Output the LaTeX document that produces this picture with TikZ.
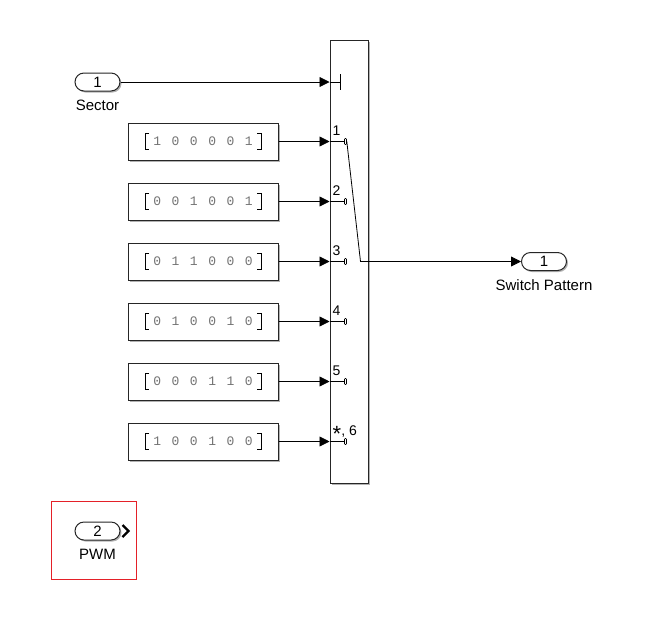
\documentclass[tikz,border=0pt]{standalone}
\usepackage{fontspec}
\setmainfont{Liberation Sans}
\newfontfamily\constfont[WordSpace=1.35]{Liberation Mono}
\usepackage{xcolor}
\definecolor{pwmred}{RGB}{228,32,40}
\usetikzlibrary{arrows.meta,positioning,shadows,calc}
\tikzset{%
  % blocks
  blk/.style={draw=black!85, line width=1pt, fill=white,
    drop shadow={shadow xshift=1.5pt, shadow yshift=-1.5pt, opacity=0.3, fill=black}},
  cblk/.style={blk, minimum width=150pt, minimum height=37pt, inner sep=0pt},
  port/.style={blk, rounded corners=9pt, minimum width=45pt, minimum height=18pt,
    inner sep=0pt, font=\fontsize{15}{15}\selectfont},
  lbl/.style={inner sep=0pt, font=\fontsize{15}{15}\selectfont},
  plbl/.style={inner sep=0pt, font=\fontsize{14}{14}\selectfont},
  term/.style={draw, fill=white, rounded corners=0.8pt, minimum width=2pt,
    minimum height=6pt, inner sep=0pt, line width=0.6pt},
  % line styles
  sig/.style={-{Triangle[length=10pt,width=10pt]}, line width=0.8pt},
  wire/.style={line width=0.8pt},
  brk/.style={line width=0.8pt},
}
\newcommand{\constnode}[3][]{%
  % #1 = placement
  % #2 = node name
  % #3 = vector values
  \node[cblk, #1] (#2) {\constfont\fontsize{13}{13}\selectfont\color{black!55}#3};
  \draw[brk] ($(#2.center)+(-54,-8)$) -- ++(-4,0) -- ++(0,16) -- ++(4,0);
  \draw[brk] ($(#2.center)+(54,-8)$) -- ++(4,0) -- ++(0,16) -- ++(-4,0);
}
\newcommand{\inport}[3]{%
  % #1 = node name, #2 = index, #3 = port label
  \coordinate (#1) at ($(swblk.west |- #2)$);
  \node[term] (t#1) at ($(#1)+(16,0)$) {};
  \draw[wire] (#1) -- (t#1);
  \node[plbl, anchor=base west] at ($(#1)+(3,-6)$) {#3};
}

\begin{document}
\begin{tikzpicture}[x=1pt, y=-1pt]
  \fill[white] (0,0) rectangle (660,633);
  \useasboundingbox (0,0) rectangle (660,633);

  % Multiport switch
  \node[blk, minimum width=38pt, minimum height=443pt, inner sep=0pt] (swblk) at (349,261.5) {};

  % Control input
  \node[port] (sector) at (97.5,82) {1};
  \node[lbl, below=8pt of sector] (sectorlbl) {Sector};

  % Constant vectors
  \constnode[at={(203,141.5)}]{const1}{1 0 0 0 0 1}
  \constnode[below=22pt of const1]{const2}{0 0 1 0 0 1}
  \constnode[below=22pt of const2]{const3}{0 1 1 0 0 0}
  \constnode[below=22pt of const3]{const4}{0 1 0 0 1 0}
  \constnode[below=22pt of const4]{const5}{0 0 0 1 1 0}
  \constnode[below=22pt of const5]{const6}{1 0 0 1 0 0}

  % Output
  \node[port] (switchout) at (544,261.5) {1};
  \node[lbl, below=8pt of switchout] (switchoutlbl) {Switch Pattern};

  % Links
  \coordinate (ctl) at (swblk.west |- sector);
  \draw[sig] (sector) -- (ctl);
  \draw[wire] (ctl) -- ++(11,0) coordinate (ctlend);
  \draw[wire] ($(ctlend)+(0,-8)$) -- ($(ctlend)+(0,8)$);

  \inport{in1}{const1}{1}
  \inport{in2}{const2}{2}
  \inport{in3}{const3}{3}
  \inport{in4}{const4}{4}
  \inport{in5}{const5}{5}
  \inport{in6}{const6}{\raisebox{-6pt}{\fontsize{22}{22}\selectfont *}, 6}

  \draw[sig] (const1) -- (in1);
  \draw[sig] (const2) -- (in2);
  \draw[sig] (const3) -- (in3);
  \draw[sig] (const4) -- (in4);
  \draw[sig] (const5) -- (in5);
  \draw[sig] (const6) -- (in6);

  \coordinate (sw) at ($(in3)+(31,0)$);
  \draw[sig] (tin1.east) -- (sw) -- (switchout);

  % PWM outport
  \node[draw=pwmred, line width=0.8pt, minimum width=85pt, minimum height=78pt] (pwmbox) at (93.5,540) {};
  \node[port] (pwm) at (97.5,531) {2};
  \draw[line width=2.2pt] ($(pwm.east)+(2,-6)$) -- ++(6,6) -- ++(-6,6);
  \node[lbl, below=8pt of pwm] (pwmlbl) {PWM};
\end{tikzpicture}
\end{document}
